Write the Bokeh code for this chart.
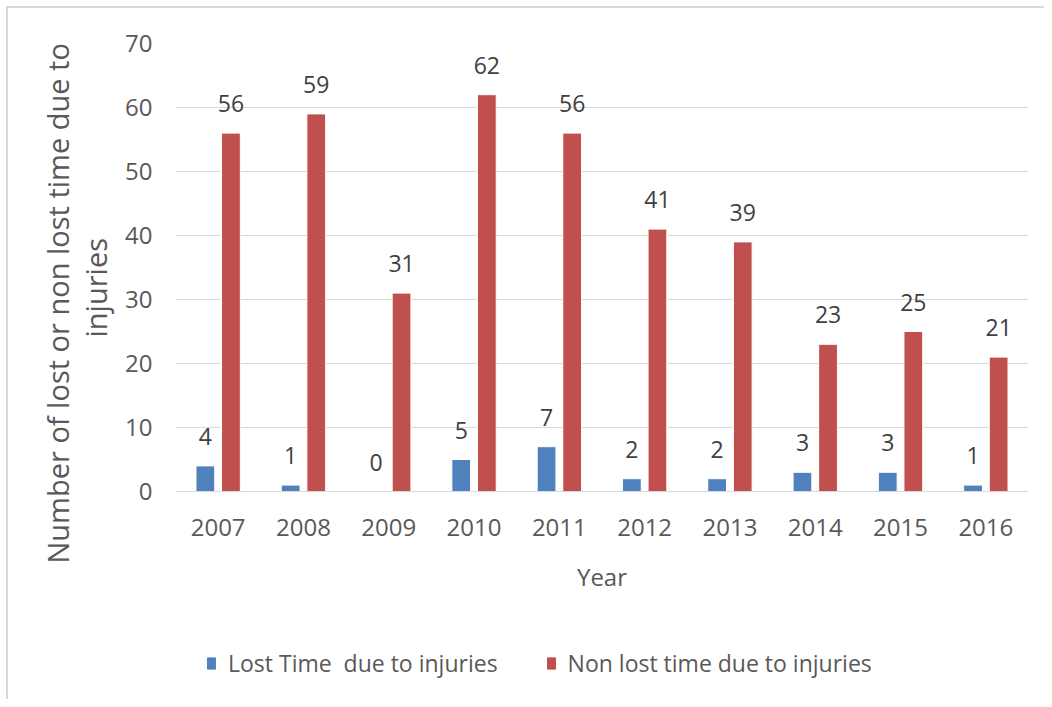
from bokeh.plotting import figure
from bokeh.models import ColumnDataSource, Legend, LegendItem, Title
from bokeh.core.properties import value
from bokeh.layouts import column
from bokeh.transform import dodge
from bokeh.embed import file_html
from bokeh.resources import INLINE

years = ["2007", "2008", "2009", "2010", "2011", "2012", "2013", "2014", "2015", "2016"]
lost_time = [4, 1, 0, 5, 7, 2, 2, 3, 3, 1]
non_lost_time = [56, 59, 31, 62, 56, 41, 39, 23, 25, 21]
y_ticks = [0, 10, 20, 30, 40, 50, 60, 70]
series_names = ["Lost Time  due to injuries", "Non lost time due to injuries"]
series_colors = ["#4F81BD", "#C0504D"]

FONT = "Open Sans"
TXT = "#595959"

src = ColumnDataSource(dict(
    year=years, lost=lost_time, nonlost=non_lost_time,
    lost_lbl=[str(v) for v in lost_time], nonlost_lbl=[str(v) for v in non_lost_time],
))

p = figure(x_range=years, y_range=(0, 70), width=1044, height=600,
           output_backend="svg", toolbar_location=None,
           min_border_left=175, min_border_right=16, min_border_top=43, min_border_bottom=109)
p.outline_line_color = None
p.border_fill_alpha = 0
p.background_fill_alpha = 0

p.vbar(x=dodge("year", -0.15, range=p.x_range), top="lost", width=0.22, source=src,
       fill_color=series_colors[0], line_color="white", line_width=1)
p.vbar(x=dodge("year", 0.15, range=p.x_range), top="nonlost", width=0.22, source=src,
       fill_color=series_colors[1], line_color="white", line_width=1)

p.text(x=dodge("year", -0.15, range=p.x_range), y="lost", text="lost_lbl", source=src,
       text_align="center", text_baseline="bottom", y_offset=-21,
       text_font=value(FONT), text_font_size="23px", text_color="#404040")
p.text(x=dodge("year", 0.15, range=p.x_range), y="nonlost", text="nonlost_lbl", source=src,
       text_align="center", text_baseline="bottom", y_offset=-21,
       text_font=value(FONT), text_font_size="23px", text_color="#404040")

p.yaxis.ticker = y_ticks
p.ygrid.grid_line_color = "#d9d9d9"
p.ygrid.grid_line_width = 1
p.xgrid.grid_line_color = None

for ax in (p.xaxis, p.yaxis):
    ax.major_tick_line_color = None
    ax.minor_tick_line_color = None
    ax.major_label_text_font = FONT
    ax.major_label_text_font_size = "24px"
    ax.major_label_text_color = TXT
    ax.axis_label_text_font = FONT
    ax.axis_label_text_font_style = "normal"
    ax.axis_label_text_color = TXT
p.yaxis.axis_line_color = None
p.xaxis.axis_line_color = "#d9d9d9"
p.yaxis.major_label_standoff = 17
p.xaxis.major_label_standoff = 21
p.xaxis.axis_label = "Year"
p.xaxis.axis_label_text_font_size = "24px"
p.xaxis.axis_label_standoff = 21

# y axis title, two lines (inner line first)
p.add_layout(Title(text="injuries", align="left", offset=154, standoff=16,
                   text_font=FONT, text_font_size="29px", text_font_style="normal",
                   text_color=TXT), "left")
p.add_layout(Title(text="Number of lost or non lost time due to", align="left", offset=-72,
                   standoff=-23, text_font=FONT, text_font_size="29px",
                   text_font_style="normal", text_color=TXT), "left")

# legend strip
lg = figure(width=1044, height=99, x_range=(0, 1), y_range=(0, 1),
            output_backend="svg", toolbar_location=None,
            min_border_left=0, min_border_right=0, min_border_top=0, min_border_bottom=0)
lg.axis.visible = False
lg.grid.grid_line_color = None
lg.outline_line_color = None
lg.border_fill_alpha = 0
lg.background_fill_alpha = 0
items = []
for name, col in zip(series_names, series_colors):
    r = lg.vbar(x=[-5], top=[0], width=0.1, fill_color=col, line_color=col)
    items.append(LegendItem(label=name, renderers=[r]))

legend = Legend(items=items, orientation="horizontal", location=(31, 20))
legend.label_text_font = FONT
legend.label_text_font_size = "23px"
legend.label_text_color = TXT
legend.border_line_color = None
legend.background_fill_alpha = 0
legend.glyph_width = 10
legend.glyph_height = 14
legend.spacing = 48
legend.margin = 0
legend.padding = 0
legend.label_standoff = 12
lg.add_layout(legend, "center")

frame_lines = ("linear-gradient(#d9d9d9, #d9d9d9) 6px 6px / 2px 100% no-repeat, "
               "linear-gradient(#d9d9d9, #d9d9d9) 6px 6px / 100% 2px no-repeat, white")
layout = column(p, lg, spacing=0, styles={"background": frame_lines})
open("out.html", "w").write(file_html(layout, INLINE))
